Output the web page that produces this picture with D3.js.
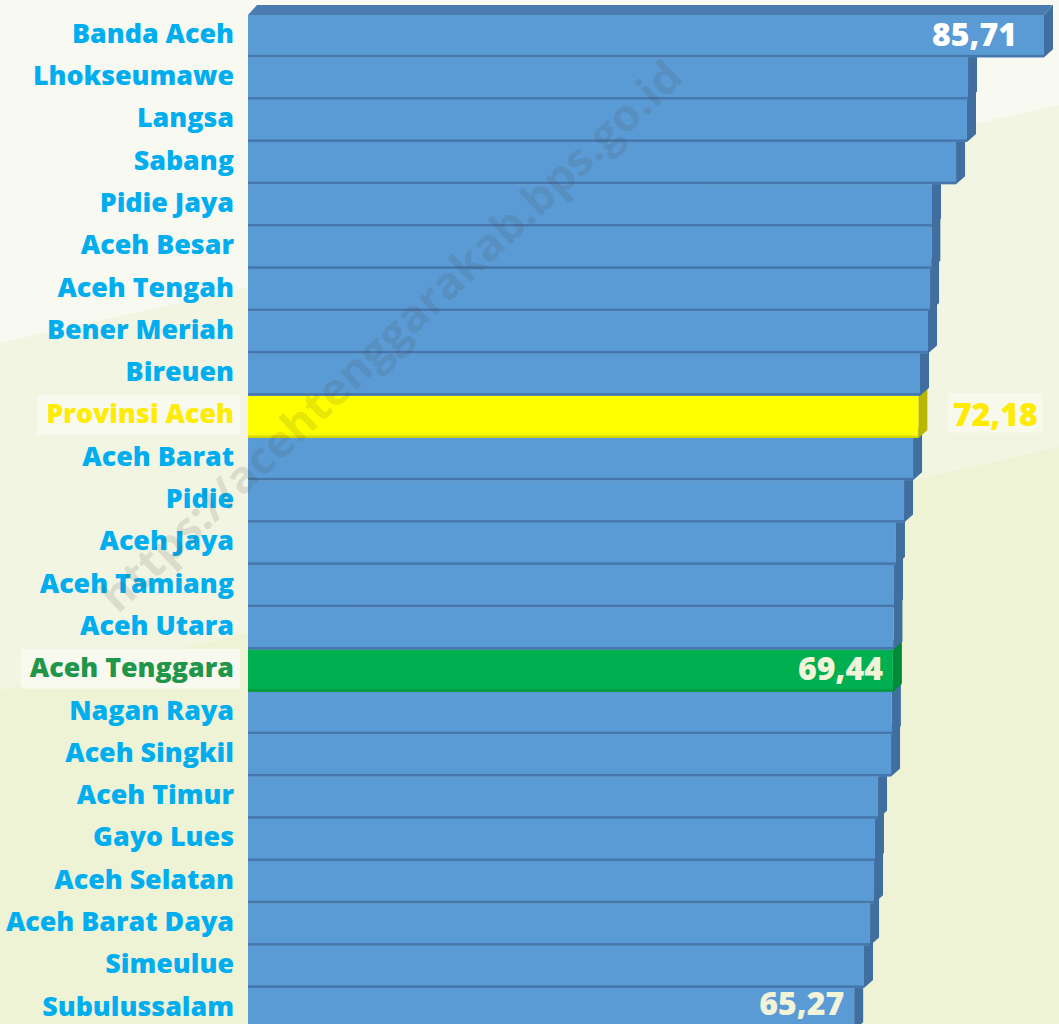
<!DOCTYPE html>
<html>
<head>
<meta charset="utf-8">
<script src="https://cdn.jsdelivr.net/npm/d3@7"></script>
<style>
  html, body { margin: 0; padding: 0; background: #EFF3D6; }
  svg { display: block; }
</style>
</head>
<body>
<svg id="chart" width="1059" height="1024"></svg>
<script>
const categories = [
  "Banda Aceh", "Lhokseumawe", "Langsa", "Sabang", "Pidie Jaya", "Aceh Besar",
  "Aceh Tengah", "Bener Meriah", "Bireuen", "Provinsi Aceh", "Aceh Barat", "Pidie",
  "Aceh Jaya", "Aceh Tamiang", "Aceh Utara", "Aceh Tenggara", "Nagan Raya",
  "Aceh Singkil", "Aceh Timur", "Gayo Lues", "Aceh Selatan", "Aceh Barat Daya",
  "Simeulue", "Subulussalam"
];
const values = [
  85.71, 77.53, 77.42, 76.24, 73.65, 73.58,
  73.44, 73.22, 72.36, 72.18, 71.61, 70.64,
  69.77, 69.56, 69.50, 69.44, 69.33,
  69.24, 67.84, 67.51, 67.41, 66.98,
  66.33, 65.27
];
const provinceCategory = "Provinsi Aceh";
const focusCategory = "Aceh Tenggara";
const shownValueCategories = ["Banda Aceh", "Provinsi Aceh", "Aceh Tenggara", "Subulussalam"];
const shownValueTexts = ["85,71", "72,18", "69,44", "65,27"];
const watermarkText = "https://acehtenggarakab.bps.go.id";

const W = 1059, H = 1024;
const svg = d3.select("#chart");
const FONT = "'Open Sans', 'DejaVu Sans', sans-serif";

// background
svg.append("rect").attr("x", 0).attr("y", 0).attr("width", W).attr("height", H).attr("fill", "#EEF3D5");
svg.append("polygon").attr("points", "0,0 1059,0 1059,447 0,690").attr("fill", "#F2F5E1");
svg.append("polygon").attr("points", "0,0 1059,0 1059,105 0,343").attr("fill", "#F8F9F0");

const x = d3.scaleLinear().domain([0, 85.71]).range([248, 1044]);
const y = d3.scaleBand().domain(categories).range([15, 15 + 24 * 42.3]).padding(0);

const data = categories.map((c, i) => ({ cat: c, v: values[i] }));
const DX = 9, DY = -10;

function colors(d) {
  if (d.cat === provinceCategory) return { front: "#FFFF00", side: "#B9B600", top: "#D6D400", line: "#D8D600" };
  if (d.cat === focusCategory) return { front: "#00B050", side: "#008A3A", top: "#009944", line: "#06963F" };
  return { front: "#5B9BD5", side: "#3F6E9F", top: "#4A7CB2", line: "#4677AC" };
}

const bars = svg.append("g");
// draw from bottom to top so upper bars cover the tops of lower bars
data.slice().reverse().forEach(d => {
  const c = colors(d);
  const x0 = x(0), x1 = x(d.v);
  const y0 = y(d.cat), y1 = y0 + y.bandwidth();
  const g = bars.append("g");
  g.append("polygon")
    .attr("points", `${x0},${y0} ${x0 + DX},${y0 + DY} ${x1 + DX},${y0 + DY} ${x1},${y0}`)
    .attr("fill", c.top);
  g.append("polygon")
    .attr("points", `${x1},${y0} ${x1 + DX},${y0 + DY} ${x1 + DX},${y1 + DY + 2} ${x1},${y1}`)
    .attr("fill", c.side);
  g.append("rect")
    .attr("x", x0).attr("y", y0).attr("width", x1 - x0).attr("height", y.bandwidth())
    .attr("fill", c.front);
  g.append("rect")
    .attr("x", x0).attr("y", y1 - 2.5).attr("width", x1 - x0).attr("height", 2.5)
    .attr("fill", c.line);
});

// category labels via axis
const axis = svg.append("g")
  .attr("transform", `translate(${x(0)},-2)`)
  .call(d3.axisLeft(y).tickSize(0).tickPadding(14));
axis.select(".domain").remove();
axis.selectAll(".tick text")
  .attr("font-family", FONT)
  .attr("font-weight", 800)
  .attr("font-size", 26.8)
  .attr("fill", d => d === provinceCategory ? "#FFEC00" : d === focusCategory ? "#1F9649" : "#00AEEF");

axis.selectAll(".tick").each(function(d) {
  if (d !== provinceCategory && d !== focusCategory) return;
  const t = d3.select(this).select("text");
  const bb = t.node().getBBox();
  d3.select(this).insert("rect", "text")
    .attr("x", bb.x - 9).attr("y", -20)
    .attr("width", bb.width + 15).attr("height", 40)
    .attr("fill", "#F8F9EF");
});

// value labels
const vlab = svg.append("g").attr("font-family", FONT).attr("font-weight", 800).attr("font-size", 32);
shownValueCategories.forEach((cat, i) => {
  const v = values[categories.indexOf(cat)];
  let cy = y(cat) + y.bandwidth() / 2 - 2;
  if (i === shownValueCategories.length - 1) cy = Math.min(cy, H - 21);
  if (cat === provinceCategory) {
    vlab.append("rect").attr("x", x(v) + 30).attr("y", cy - 22).attr("width", 94).attr("height", 40).attr("fill", "#F7F9EC");
    vlab.append("text").attr("x", x(v) + 77).attr("y", cy).attr("dy", "0.36em")
      .attr("text-anchor", "middle").attr("fill", "#FFEB00").text(shownValueTexts[i]);
  } else {
    const off = i === 0 ? 27 : 10;
    vlab.append("text").attr("x", x(v) - off).attr("y", cy).attr("dy", "0.36em")
      .attr("text-anchor", "end").attr("fill", i === 0 ? "#FFFFFF" : "#F1F4D8").text(shownValueTexts[i]);
  }
});

// watermark
svg.append("text")
  .attr("transform", "translate(391,336) rotate(-43.3)")
  .attr("text-anchor", "middle")
  .attr("dy", "0.35em")
  .attr("font-family", FONT)
  .attr("font-weight", 700)
  .attr("font-size", 44)
  .attr("textLength", 780)
  .attr("lengthAdjust", "spacingAndGlyphs")
  .attr("fill", "rgba(60,60,60,0.15)")
  .text(watermarkText);
</script>
</body>
</html>
